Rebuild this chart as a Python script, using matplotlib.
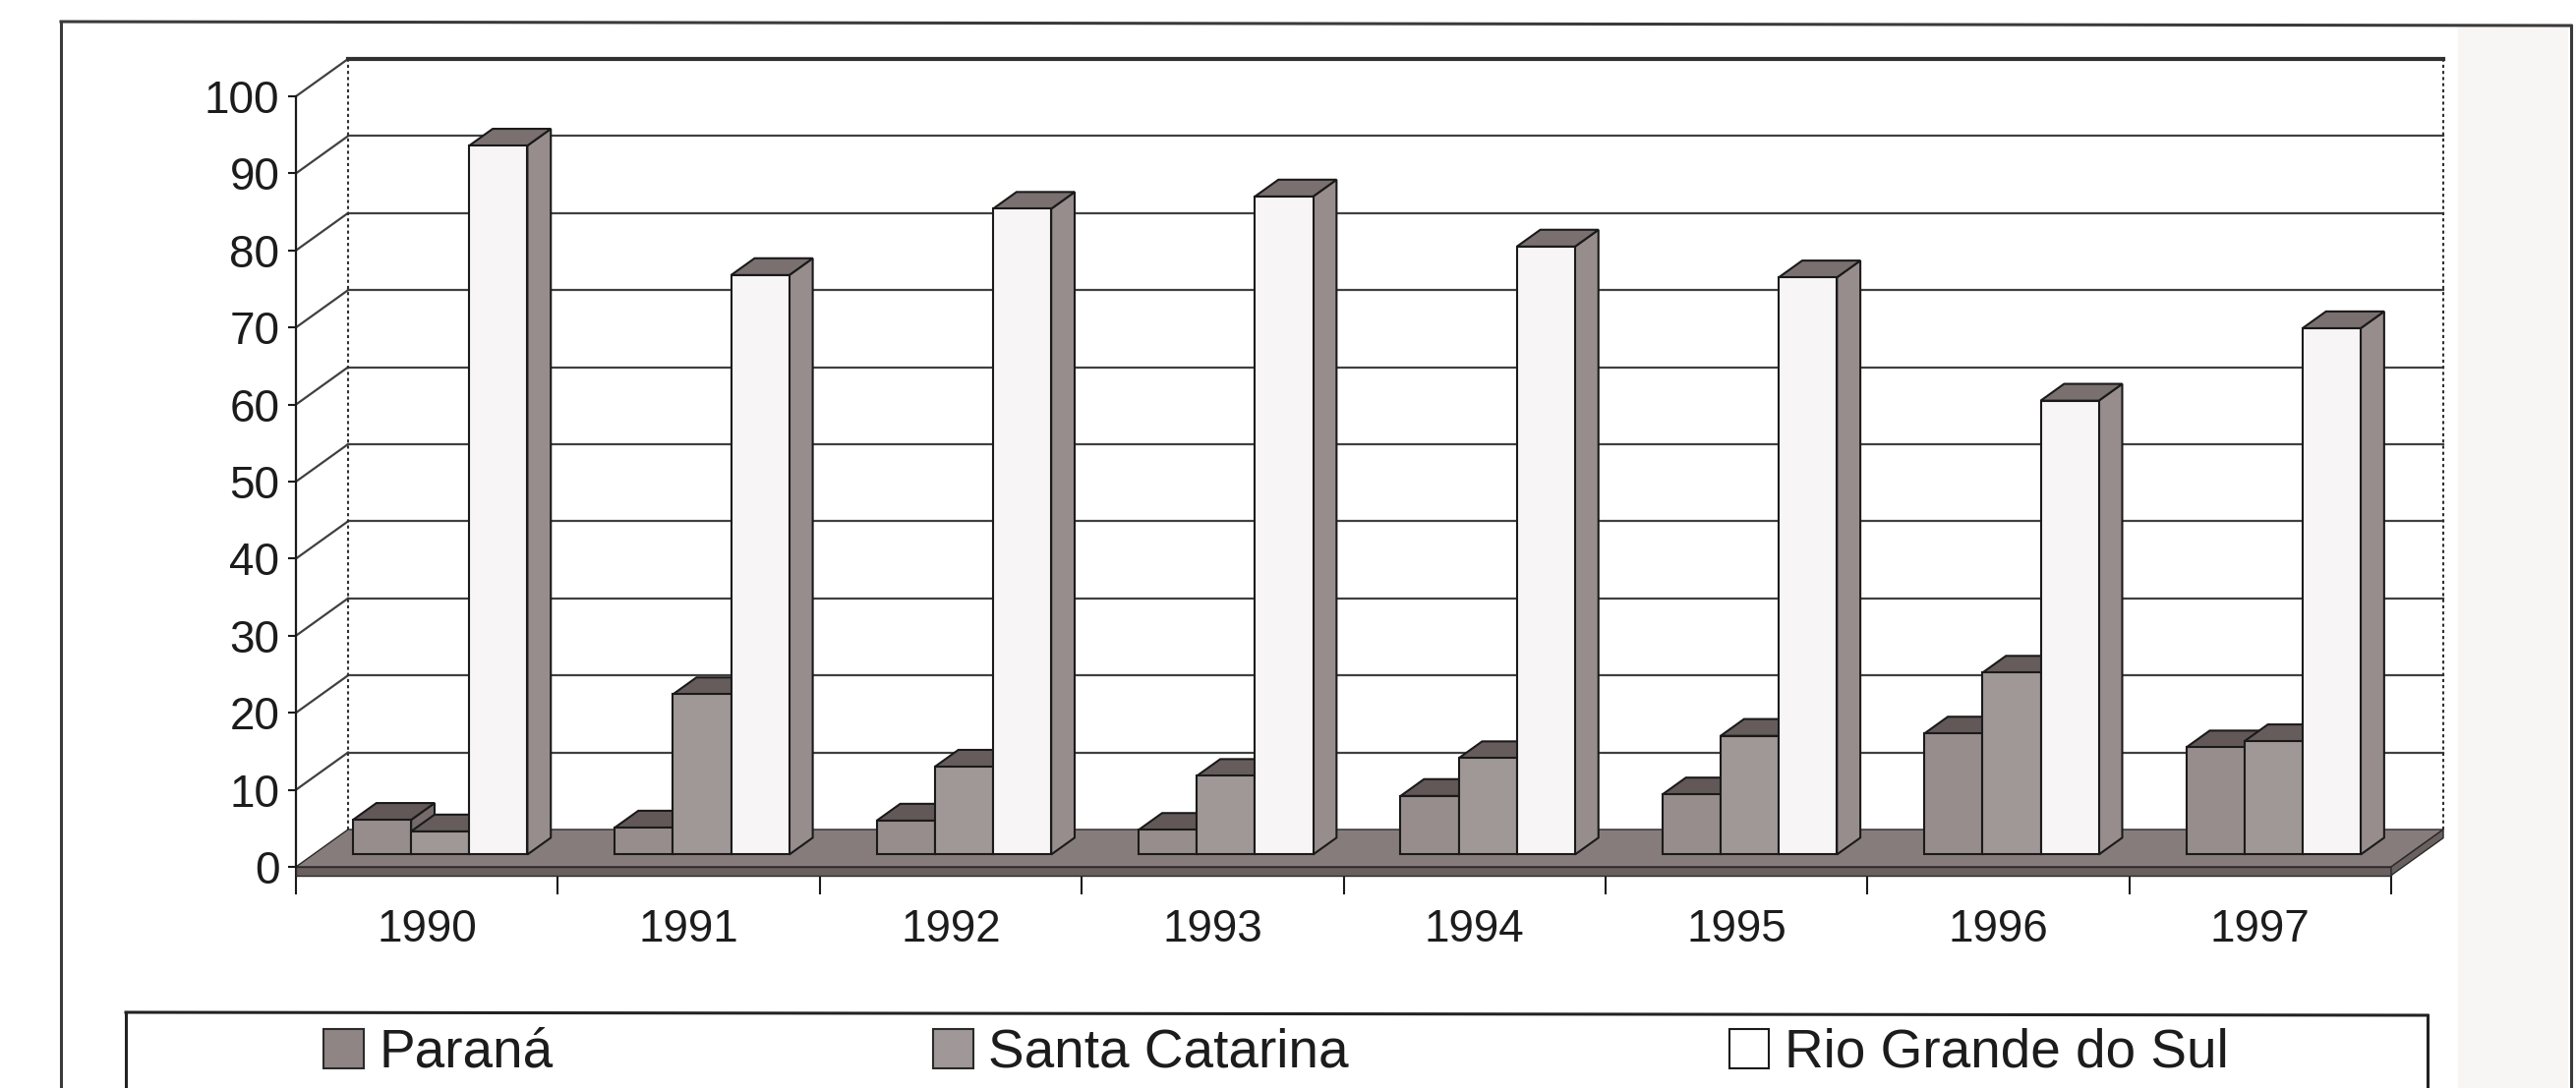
import matplotlib
matplotlib.use("Agg")
import matplotlib.pyplot as plt
from matplotlib.patches import Polygon, Rectangle, Patch
from matplotlib.lines import Line2D

plt.rcParams['font.family'] = ['Liberation Sans', 'DejaVu Sans']

# data
years = ['1990', '1991', '1992', '1993', '1994', '1995', '1996', '1997']
parana = [4.5, 3.5, 4.4, 3.2, 7.6, 7.8, 15.7, 13.9]
santa_catarina = [3.0, 20.8, 11.4, 10.2, 12.5, 15.4, 23.6, 14.7]
rio_grande = [92.0, 75.2, 83.8, 85.4, 78.9, 74.9, 58.9, 68.3]
series_names = ['Paraná', 'Santa Catarina', 'Rio Grande do Sul']
y_ticks = list(range(0, 101, 10))

W, H = 2620, 1107
fig = plt.figure(figsize=(W / 100, H / 100), dpi=100)
fig.patch.set_facecolor('white')

def fx(px):
    return px / W

def fy(py):
    return 1 - py / H

# front plane of the 3D box: x in category units, y in value units
ax = fig.add_axes([fx(301), fy(882), fx(2131), 784 / H])
ax.set_xlim(0, len(years))
ax.set_ylim(0, 100)
ax.patch.set_visible(False)

# oblique depth offset of the box (data units) and bar placement
DX, DY = 0.199, 4.85
f0, bd = 0.33, 0.45          # bar front depth, bar depth (fractions of box depth)
bw, start = 0.222, 0.152     # bar width, cluster offset inside a category

grid_c = '#404040'
n = len(years)

# back wall gridlines, side wall diagonals
for v in y_ticks[1:-1]:
    ax.plot([DX, n + DX], [v + DY, v + DY], color=grid_c, lw=1.6, zorder=1, clip_on=False)
for v in y_ticks[1:]:
    ax.plot([0, DX], [v, v + DY], color=grid_c, lw=1.6, zorder=1, clip_on=False)
ax.plot([DX, n + DX], [100 + DY, 100 + DY], color='#303030', lw=3, zorder=1, clip_on=False)
ax.plot([DX, DX], [DY, 100 + DY], color='#303030', lw=1.5, ls=(0, (1.5, 1.5)), zorder=1, clip_on=False)
ax.plot([n + DX, n + DX], [DY, 100 + DY], color='#303030', lw=1.5, ls=(0, (1.5, 1.5)), zorder=1, clip_on=False)

# floor with a thin slab
floor_c = '#877c7c'
ax.add_patch(Polygon([(0, 0), (n, 0), (n + DX, DY), (DX, DY)], closed=True,
                     facecolor=floor_c, edgecolor='#2a2a2a', lw=1, zorder=2, clip_on=False))
ax.add_patch(Polygon([(0, -1.1), (n, -1.1), (n, 0), (0, 0)], closed=True,
                     facecolor='#6a6060', edgecolor='#2a2a2a', lw=1, zorder=3, clip_on=False))
ax.add_patch(Polygon([(n, -1.1), (n + DX, DY - 1.1), (n + DX, DY), (n, 0)], closed=True,
                     facecolor='#6a6060', edgecolor='#2a2a2a', lw=1, zorder=3, clip_on=False))

styles = [
    dict(front='#978d8d', top='#625858', side='#756b6b'),
    dict(front='#a09797', top='#665c5c', side='#786e6e'),
    dict(front='#f7f5f5', top='#7a7070', side='#978d8d'),
]

def bar3d(x0, v, st, z):
    ox, oy = f0 * DX, f0 * DY
    bx, by = bd * DX, bd * DY
    x0 = x0 + ox
    x1 = x0 + bw
    kw = dict(closed=True, edgecolor='#1a1a1a', lw=1.5, clip_on=False, zorder=z)
    ax.add_patch(Polygon([(x1, oy), (x1 + bx, oy + by), (x1 + bx, v + oy + by), (x1, v + oy)],
                         facecolor=st['side'], **kw))
    ax.add_patch(Polygon([(x0, v + oy), (x1, v + oy), (x1 + bx, v + oy + by), (x0 + bx, v + oy + by)],
                         facecolor=st['top'], **kw))
    ax.add_patch(Polygon([(x0, oy), (x1, oy), (x1, v + oy), (x0, v + oy)],
                         facecolor=st['front'], **kw))

z = 4
for i in range(n):
    for j, vals in enumerate([parana, santa_catarina, rio_grande]):
        bar3d(i + start + j * bw, vals[i], styles[j], z)
        z += 0.01

# axes: front value axis and category ticks
for s in ['top', 'right', 'bottom']:
    ax.spines[s].set_visible(False)
ax.spines['left'].set_color('#1a1a1a')
ax.spines['left'].set_linewidth(1.6)
ax.spines['left'].set_zorder(3.5)
ax.set_yticks(y_ticks)
ax.tick_params(axis='y', direction='out', length=6, width=1.5, color='#1a1a1a',
               labelsize=33, pad=6, labelcolor='#1c1c1c')
ax.set_xticks(range(n + 1))
ax.set_xticklabels([''] * (n + 1))
ax.set_xticks([i + 0.5 for i in range(n)], minor=True)
ax.set_xticklabels(years, minor=True)
ax.tick_params(axis='x', which='major', direction='out', length=20, width=1.5, color='#1a1a1a')
ax.tick_params(axis='x', which='minor', length=0, labelsize=33, pad=30, labelcolor='#1c1c1c')

# outer frame of the scanned figure and faint page shade on the right
fig.add_artist(Rectangle((fx(2500), 0), fx(2612) - fx(2500), fy(26), transform=fig.transFigure,
                         facecolor='#f8f6f5', edgecolor='none', zorder=0))
frame_kw = dict(transform=fig.transFigure, color='#3a3a3a', lw=2.2)
fig.add_artist(Line2D([fx(62), fx(2615)], [fy(22), fy(26)], **frame_kw))
fig.add_artist(Line2D([fx(62), fx(62)], [fy(22), 0], **frame_kw))
fig.add_artist(Line2D([fx(2615), fx(2615)], [fy(26), 0], **frame_kw))

# legend box
box_kw = dict(transform=fig.transFigure, color='#222222', lw=2.2)
fig.add_artist(Line2D([fx(128), fx(2469)], [fy(1030), fy(1033)], **box_kw))
fig.add_artist(Line2D([fx(128), fx(128)], [fy(1030), 0], **box_kw))
fig.add_artist(Line2D([fx(2469), fx(2469)], [fy(1033), 0], **box_kw))

handles = [Patch(facecolor='#8f8585', edgecolor='#2a2a2a', lw=1.5),
           Patch(facecolor='#a09898', edgecolor='#2a2a2a', lw=1.5),
           Patch(facecolor='white', edgecolor='#1a1a1a', lw=1.5)]
leg = fig.legend(handles, series_names, loc='center', bbox_to_anchor=(fx(1298), fy(1072)),
                 ncol=3, frameon=False, fontsize=39.5, handlelength=0.73, handleheight=0.73,
                 handletextpad=0.29, columnspacing=7.05, borderpad=0)
for t in leg.get_texts():
    t.set_color('#1c1c1c')

fig.savefig('out.png', dpi=100)
